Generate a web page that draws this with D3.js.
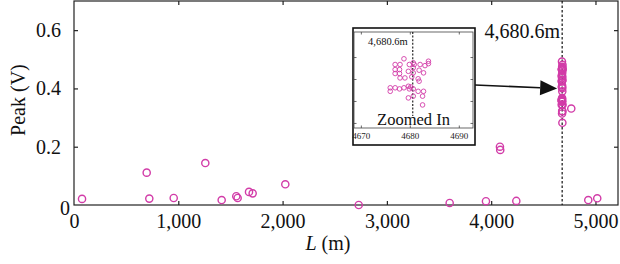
<!DOCTYPE html>
<html>
<head>
<meta charset="utf-8">
<script src="https://cdn.jsdelivr.net/npm/d3@7"></script>
<style>
  body { margin: 0; background: #fff; }
  svg text { font-family: "Liberation Serif", "Times New Roman", serif !important; }
</style>
</head>
<body>
<svg id="chart" width="620" height="264"></svg>
<script>
// scattered detections along the line
const scatterL = [77, 697, 722, 956, 1259, 1416, 1556, 1569, 1678, 1713, 2026,
  2730, 3602, 3950, 4084, 4087, 4241, 4768, 4931, 5017];
const scatterPeak = [0.021, 0.111, 0.022, 0.024, 0.144, 0.017, 0.030, 0.024, 0.045, 0.040, 0.071,
  0.0, 0.007, 0.013, 0.200, 0.189, 0.014, 0.331, 0.017, 0.023];

// cluster around the fault location (shown in the inset)
const clusterL = [4678.8, 4680.7, 4683.8, 4683.8, 4677.0, 4678.0, 4679.9, 4680.9, 4682.1, 4683.1,
  4677.0, 4677.9, 4680.7, 4681.9, 4677.0, 4677.9, 4679.7, 4680.7, 4682.8,
  4678.0, 4679.0, 4680.4, 4681.7, 4681.9,
  4676.0, 4676.0, 4677.0, 4677.9, 4678.8, 4679.7, 4679.9, 4680.2, 4680.7, 4681.7, 4682.8,
  4679.7, 4680.7, 4682.6, 4682.6];
const clusterPeak = [0.492, 0.474, 0.481, 0.470, 0.466, 0.466, 0.466, 0.466, 0.466, 0.461,
  0.443, 0.443, 0.451, 0.440, 0.425, 0.425, 0.435, 0.428, 0.428,
  0.405, 0.405, 0.410, 0.401, 0.390,
  0.360, 0.344, 0.360, 0.355, 0.360, 0.367, 0.355, 0.364, 0.355, 0.344, 0.344,
  0.314, 0.322, 0.322, 0.282];

const faultL = 4680.6;
const faultLabel = '4,680.6m';

const xTicks = [0, 1000, 2000, 3000, 4000, 5000];
const yTicks = [0, 0.2, 0.4, 0.6];
const insetXTicks = [4670, 4680, 4690];
const insetYTicks = [0.2, 0.3, 0.4, 0.5];

const pink = '#d23ca8';
const serif = '"Liberation Serif", "Times New Roman", serif';
const svg = d3.select('#chart');

const margin = { top: 1, right: 2, bottom: 59, left: 74 };
const width = 620 - margin.left - margin.right;
const height = 264 - margin.top - margin.bottom;

const x = d3.scaleLinear().domain([0, 5216]).range([0, width]);
const y = d3.scaleLinear().domain([0, 0.7]).range([height, 0]);

const g = svg.append('g').attr('transform', `translate(${margin.left},${margin.top})`);

// frame
g.append('rect')
  .attr('width', width).attr('height', height)
  .attr('fill', 'none').attr('stroke', '#222').attr('stroke-width', 1.2);

const fmt = d3.format(',');

//
// AXES (ticks point inward on all sides)
//
const xAxis = g.append('g')
  .attr('transform', `translate(0,${height})`)
  .call(d3.axisBottom(x).tickValues(xTicks).tickSize(-4).tickSizeOuter(0).tickPadding(9)
    .tickFormat(d => fmt(d)));

g.append('g')
  .call(d3.axisTop(x).tickValues(xTicks.slice(1)).tickSize(-4).tickSizeOuter(0).tickFormat(() => ''));

const yAxis = g.append('g')
  .call(d3.axisLeft(y).tickValues(yTicks).tickSize(-4).tickSizeOuter(0).tickPadding(13)
    .tickFormat(d => d === 0 ? '0' : d3.format('.1f')(d)));

g.append('g')
  .attr('transform', `translate(${width},0)`)
  .call(d3.axisRight(y).tickValues(yTicks.slice(1)).tickSize(-4).tickSizeOuter(0).tickFormat(() => ''));

g.selectAll('.domain').remove();
g.selectAll('g').attr('font-family', serif);
g.selectAll('.tick line').attr('stroke', '#222').attr('stroke-width', 1.2);
g.selectAll('.tick text').attr('font-size', 20).attr('fill', '#111').style('font-family', serif);
xAxis.selectAll('.tick').filter(d => d === 0).select('line').remove();
yAxis.selectAll('.tick').filter(d => d === 0).select('line').remove();
yAxis.selectAll('.tick').filter(d => d === 0).select('text').attr('x', -4).attr('dy', '0.45em');

// axis titles
svg.append('text')
  .attr('transform', `translate(25,${margin.top + y(0.36)}) rotate(-90)`)
  .attr('text-anchor', 'middle').attr('font-size', 20).attr('fill', '#111')
  .text('Peak (V)');

const xt = svg.append('text')
  .attr('x', 328).attr('y', 250)
  .attr('text-anchor', 'middle').attr('font-size', 20).attr('fill', '#111');
xt.append('tspan').attr('font-style', 'italic').text('L');
xt.append('tspan').text(' (m)');

//
// FAULT LINE
//
g.append('line')
  .attr('x1', x(faultL)).attr('x2', x(faultL))
  .attr('y1', 0).attr('y2', height)
  .attr('stroke', '#111').attr('stroke-width', 1.2).attr('stroke-dasharray', '2.5,2');

g.append('text')
  .attr('x', x(faultL) - 2).attr('y', 37)
  .attr('text-anchor', 'end').attr('font-size', 20).attr('fill', '#111')
  .text(faultLabel);

//
// POINTS
//
const allL = scatterL.concat(clusterL);
const allPeak = scatterPeak.concat(clusterPeak);

g.append('g').selectAll('circle')
  .data(allL.map((d, i) => [d, allPeak[i]]))
  .join('circle')
  .attr('cx', d => x(d[0]))
  .attr('cy', d => y(d[1]))
  .attr('r', 3.6)
  .attr('fill', 'none')
  .attr('stroke', pink)
  .attr('stroke-width', 1.4);

//
// INSET
//
const box = { x0: 353, y0: 28, x1: 475, y1: 145 };
const inner = { x0: 354, y0: 32, x1: 473, y1: 128 };

svg.append('rect')
  .attr('x', box.x0).attr('y', box.y0)
  .attr('width', box.x1 - box.x0).attr('height', box.y1 - box.y0)
  .attr('fill', '#fff').attr('stroke', '#111').attr('stroke-width', 1.6);

const ix = d3.scaleLinear().domain([4668.6, 4692.9]).range([inner.x0, inner.x1]);
const iy = d3.scaleLinear().domain([0.177, 0.614]).range([inner.y1, inner.y0]);

const ins = svg.append('g');

ins.append('rect')
  .attr('x', inner.x0).attr('y', inner.y0)
  .attr('width', inner.x1 - inner.x0).attr('height', inner.y1 - inner.y0)
  .attr('fill', 'none').attr('stroke', '#444').attr('stroke-width', 0.8);

ins.append('g')
  .attr('transform', `translate(0,${inner.y1})`)
  .call(d3.axisBottom(ix).tickValues(insetXTicks).tickSize(-2.5).tickSizeOuter(0).tickPadding(5)
    .tickFormat(d3.format('d')));
ins.append('g')
  .attr('transform', `translate(0,${inner.y0})`)
  .call(d3.axisTop(ix).tickValues(insetXTicks).tickSize(-2.5).tickSizeOuter(0).tickFormat(() => ''));
ins.append('g')
  .attr('transform', `translate(${inner.x0},0)`)
  .call(d3.axisLeft(iy).tickValues(insetYTicks).tickSize(-2.5).tickSizeOuter(0).tickFormat(() => ''));
ins.append('g')
  .attr('transform', `translate(${inner.x1},0)`)
  .call(d3.axisRight(iy).tickValues(insetYTicks).tickSize(-2.5).tickSizeOuter(0).tickFormat(() => ''));

ins.selectAll('.domain').remove();
ins.selectAll('g').attr('font-family', serif);
ins.selectAll('.tick line').attr('stroke', '#444').attr('stroke-width', 0.8);
ins.selectAll('.tick text').attr('font-size', 9).attr('fill', '#222').style('font-family', serif);

ins.append('line')
  .attr('x1', ix(faultL)).attr('x2', ix(faultL))
  .attr('y1', inner.y0).attr('y2', 116)
  .attr('stroke', '#111').attr('stroke-width', 1.1).attr('stroke-dasharray', '2,1.6');

ins.append('text')
  .attr('x', ix(faultL) - 5).attr('y', 45)
  .attr('text-anchor', 'end').attr('font-size', 10.5).attr('fill', '#111')
  .text(faultLabel);

ins.append('g').selectAll('circle')
  .data(clusterL.map((d, i) => [d, clusterPeak[i]]))
  .join('circle')
  .attr('cx', d => ix(d[0]))
  .attr('cy', d => iy(d[1]))
  .attr('r', 2.3)
  .attr('fill', 'none')
  .attr('stroke', pink)
  .attr('stroke-width', 0.9);

ins.append('text')
  .attr('x', (inner.x0 + inner.x1) / 2).attr('y', 125)
  .attr('text-anchor', 'middle').attr('font-size', 16.5).attr('fill', '#111')
  .text('Zoomed In');

//
// ARROW
//
const tipX = margin.left + x(faultL) - 5;
const tipY = margin.top + y(0.4);
const startX = box.x1;
const startY = 85;
const ang = Math.atan2(tipY - startY, tipX - startX);
const headLen = 17, headW = 7.5;
const bx = tipX - headLen * Math.cos(ang), by = tipY - headLen * Math.sin(ang);

svg.append('line')
  .attr('x1', startX).attr('y1', startY).attr('x2', bx).attr('y2', by)
  .attr('stroke', '#111').attr('stroke-width', 1.6);

svg.append('path')
  .attr('d', `M${tipX},${tipY}
    L${bx - headW * Math.sin(ang)},${by + headW * Math.cos(ang)}
    L${bx + headW * Math.sin(ang)},${by - headW * Math.cos(ang)}Z`)
  .attr('fill', '#111');
</script>
</body>
</html>
